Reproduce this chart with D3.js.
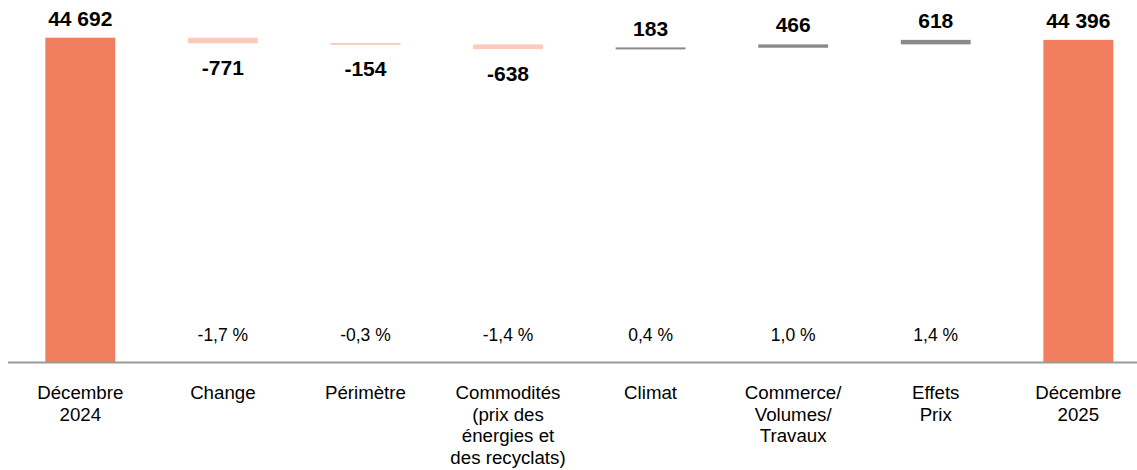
<!DOCTYPE html>
<html>
<head>
<meta charset="utf-8">
<script src="https://cdn.jsdelivr.net/npm/d3@7/dist/d3.min.js"></script>
<style>
  html, body { margin: 0; padding: 0; background: #fff; }
  svg { display: block; font-family: "Liberation Sans", Arial, Helvetica, sans-serif; }
</style>
</head>
<body>
<svg id="chart" width="1137" height="470"></svg>
<script>
// ---- data ----
const categories = [
  ["Décembre", "2024"],
  ["Change"],
  ["Périmètre"],
  ["Commodités", "(prix des", "énergies et", "des recyclats)"],
  ["Climat"],
  ["Commerce/", "Volumes/", "Travaux"],
  ["Effets", "Prix"],
  ["Décembre", "2025"]
];
const kinds = ["total", "delta", "delta", "delta", "delta", "delta", "delta", "total"];
const values = [44692, -771, -154, -638, 183, 466, 618, 44396];
const valueLabels = ["44 692", "-771", "-154", "-638", "183", "466", "618", "44 396"];
const pctLabels = ["", "-1,7 %", "-0,3 %", "-1,4 %", "0,4 %", "1,0 %", "1,4 %", ""];

// ---- build waterfall segments ----
let running = 0;
const segs = values.map((v, i) => {
  let y0, y1;
  if (kinds[i] === "total") { y0 = 0; y1 = v; running = v; }
  else { y0 = running; y1 = running + v; running = y1; }
  return { i, v, lo: Math.min(y0, y1), hi: Math.max(y0, y1), kind: kinds[i] };
});

const svg = d3.select("#chart");
const x = d3.scaleBand().domain(d3.range(categories.length))
  .range([9, 1149.6]).paddingInner(0.51).paddingOuter(0.255);
const y = d3.scaleLinear().domain([0, 45000]).range([362, 35.5]);

const colorTotal = "#F07D5E", colorNeg = "#FCCABA", colorPos = "#8A8A8A";

// bars
svg.append("g").selectAll("rect").data(segs).join("rect")
  .attr("x", d => x(d.i))
  .attr("width", x.bandwidth())
  .attr("y", d => {
    const h = y(d.lo) - y(d.hi);
    return h < 2 ? (y(d.lo) + y(d.hi)) / 2 - 1 : y(d.hi);
  })
  .attr("height", d => Math.max(2, y(d.lo) - y(d.hi)))
  .attr("fill", d => d.kind === "total" ? colorTotal : (d.v < 0 ? colorNeg : colorPos));

// axis line
svg.append("line")
  .attr("x1", 8).attr("x2", 1137)
  .attr("y1", 362.5).attr("y2", 362.5)
  .attr("stroke", "#999").attr("stroke-width", 2);

// value labels
svg.append("g").selectAll("text").data(segs).join("text")
  .attr("x", d => x(d.i) + x.bandwidth() / 2)
  .attr("y", d => d.v < 0 ? y(d.lo) + 32 : y(d.hi) - 12)
  .attr("text-anchor", "middle")
  .attr("font-size", 21).attr("font-weight", "bold").attr("fill", "#000")
  .text(d => valueLabels[d.i]);

// percent labels
svg.append("g").selectAll("text").data(pctLabels.map((t, i) => ({ t, i })).filter(d => d.t)).join("text")
  .attr("x", d => x(d.i) + x.bandwidth() / 2)
  .attr("y", 341)
  .attr("text-anchor", "middle")
  .attr("font-size", 17.5).attr("fill", "#000")
  .text(d => d.t);

// category labels
const cat = svg.append("g").selectAll("text").data(categories).join("text")
  .attr("x", (d, i) => x(i) + x.bandwidth() / 2)
  .attr("y", 399)
  .attr("text-anchor", "middle")
  .attr("font-size", 18.7).attr("fill", "#000");
cat.selectAll("tspan").data(d => d).join("tspan")
  .attr("x", function () { return this.parentNode.getAttribute("x"); })
  .attr("dy", (d, j) => j === 0 ? 0 : 21.5)
  .text(d => d);
</script>
</body>
</html>
